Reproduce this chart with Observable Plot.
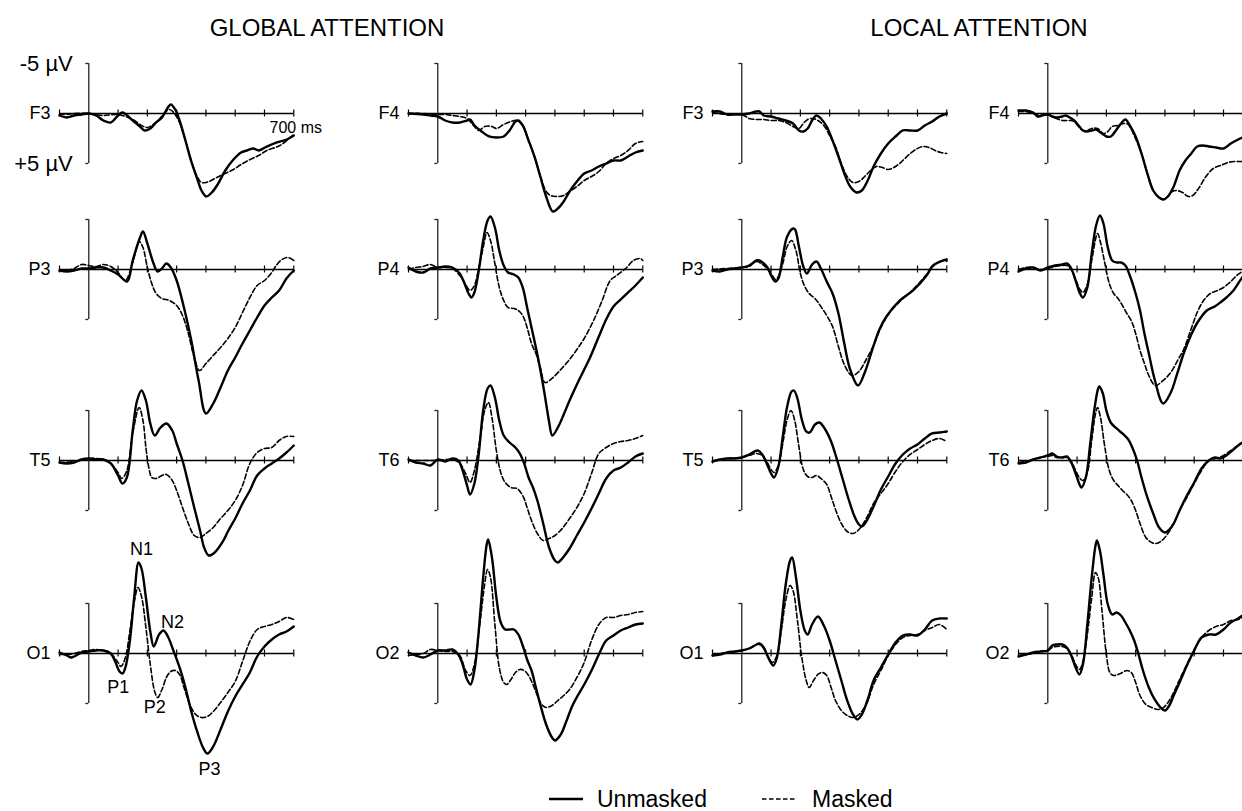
<!DOCTYPE html>
<html>
<head>
<meta charset="utf-8">
<script src="https://cdn.jsdelivr.net/npm/d3@7"></script>
<script src="https://cdn.jsdelivr.net/npm/@observablehq/plot@0.6"></script>
<style>
  html, body { margin: 0; padding: 0; background: #fff; overflow: hidden; }
  #fig { position: relative; width: 1242px; height: 811px; font-family: "Liberation Sans", Arial, Helvetica, sans-serif; color: #000; }
  .title { position: absolute; top: 16px; font-size: 24px; line-height: 24px; transform: translateX(-50%); white-space: nowrap; }
  #legend { position: absolute; left: 0; top: 780px; }
</style>
</head>
<body>
<div id="fig"></div>
<script>
// ---------------- DATA (latency ms, amplitude µV; positive = down) ----------------
const conditionTitles = ["GLOBAL ATTENTION", "LOCAL ATTENTION"];
const leftChannels = ["F3", "P3", "T5", "O1"];
const rightChannels = ["F4", "P4", "T6", "O2"];
const timeTicks = [-100, 0, 100, 200, 300, 400, 500, 600, 700];
const ampTicks = [-5, 5];
const legendLabels = ["Unmasked", "Masked"];

// Global attention, left hemisphere
const gF3u = [[-100,0.2],[-75,0.4],[-50,0.2],[-25,0.1],[0,0],[25,0.2],[50,0.7],[75,0.9],[100,0.2],[115,-0.1],[150,0.7],[175,1.3],[190,1.7],[210,1.5],[230,0.9],[250,0.4],[270,-0.6],[280,-0.9],[295,-0.4],[310,0.7],[330,2.7],[350,4.8],[370,6.5],[385,7.7],[401,8.3],[420,7.9],[440,7.1],[466,5.7],[494,4.6],[520,3.9],[540,3.7],[562,3.5],[580,3.7],[602,3.4],[642,2.9],[676,2.6],[700,2.2]];
const gF3m = [[-100,0.1],[-75,0.1],[-50,0],[0,0],[50,0.2],[100,0.1],[150,0.6],[180,1.2],[200,1.4],[220,1.1],[240,0.6],[260,-0.1],[275,-0.4],[290,-0.1],[310,0.9],[330,2.7],[350,4.7],[370,6.3],[385,6.9],[410,6.8],[437,6.4],[465,6.0],[494,5.6],[520,5.1],[551,4.6],[580,4.2],[608,3.7],[653,3.2],[688,2.4],[700,2.1]];
const gP3u = [[-100,0.1],[-75,0.2],[-50,0.1],[-25,-0.1],[0,-0.1],[25,-0.2],[50,-0.2],[75,0.1],[100,0.5],[131,1.2],[150,-0.9],[175,-3.2],[185,-3.8],[200,-2.6],[220,-0.7],[235,0.2],[250,-0.1],[265,-0.6],[280,-0.2],[300,1.1],[325,3.8],[350,7.1],[375,11.1],[400,14.4],[425,13.4],[450,11.8],[475,10.1],[500,8.8],[525,7.4],[550,6.1],[575,4.8],[600,3.6],[625,2.8],[650,2.1],[675,0.9],[700,0.1]];
const gP3m = [[-100,0.1],[-75,0.1],[-50,-0.1],[-25,-0.5],[0,-0.4],[25,-0.3],[50,-0.5],[75,-0.3],[100,0.3],[125,1.1],[150,-0.7],[172,-2.8],[185,-2.2],[200,-0.2],[215,1.4],[230,2.4],[250,2.9],[275,3.1],[300,3.6],[320,4.6],[340,6.4],[360,8.8],[378,10.1],[400,9.4],[425,8.6],[450,7.8],[475,6.9],[500,5.8],[525,4.3],[550,2.8],[575,1.6],[600,1.1],[625,0.3],[640,-0.4],[660,-1.0],[680,-1.2],[700,-0.9]];
const gT5u = [[-100,0.2],[-75,0.3],[-50,0.2],[-25,-0.1],[0,-0.2],[25,-0.1],[50,-0.1],[75,0.3],[100,1.5],[115,2.3],[130,1.7],[150,-3.0],[165,-6.0],[180,-7.0],[195,-6.0],[210,-3.7],[225,-2.5],[245,-3.3],[265,-3.7],[285,-3.0],[300,-1.7],[320,0],[340,2.3],[360,4.7],[380,7.0],[395,8.8],[410,9.5],[430,9.2],[460,8.0],[475,7.1],[500,5.8],[525,4.3],[550,3.0],[575,1.5],[600,0.8],[625,0.3],[650,-0.2],[675,-0.8],[700,-1.5]];
const gT5m = [[-100,0.2],[-50,0.1],[0,-0.2],[50,-0.1],[75,0.3],[100,1.2],[113,1.8],[130,1.0],[150,-2.7],[172,-5.3],[185,-4.0],[195,-1.3],[205,0.7],[215,1.7],[230,1.8],[250,1.5],[265,1.4],[285,2.0],[300,3.0],[320,4.7],[340,6.3],[360,7.5],[380,7.7],[400,7.3],[425,6.7],[450,5.8],[475,5.0],[500,4.0],[525,2.5],[550,0.3],[575,-0.8],[600,-1.2],[625,-1.3],[650,-2.0],[675,-2.4],[700,-2.4]];
const gO1u = [[-100,-0.1],[-75,0.2],[-60,0.4],[-50,0.3],[-25,-0.1],[0,-0.2],[25,-0.3],[50,-0.3],[75,0],[90,0.8],[105,1.8],[115,2.0],[125,1.4],[140,-1.2],[155,-5.6],[170,-9.1],[180,-8.5],[195,-5.6],[210,-2.2],[222,-0.7],[240,-1.9],[255,-2.3],[270,-1.7],[290,-0.2],[310,1.4],[330,3.4],[350,5.8],[370,7.8],[390,9.4],[405,10.0],[425,9.3],[450,7.6],[475,5.8],[500,4.3],[525,3.1],[550,1.9],[575,0.3],[600,-0.7],[625,-1.4],[650,-1.9],[675,-2.2],[700,-2.7]];
const gO1m = [[-100,0.1],[-75,0.1],[-50,0],[-25,-0.2],[0,-0.3],[25,-0.4],[50,-0.3],[75,0],[100,0.9],[110,1.3],[125,0.4],[140,-2.2],[155,-5.1],[168,-6.6],[180,-5.7],[195,-2.6],[210,1.1],[225,3.8],[235,4.4],[250,3.6],[265,2.4],[280,1.8],[295,1.7],[310,2.1],[325,3.4],[345,5.1],[365,6.1],[385,6.4],[405,6.3],[425,5.8],[450,4.9],[475,3.9],[500,2.8],[525,0.8],[550,-1.2],[575,-2.4],[600,-2.7],[625,-2.9],[650,-3.2],[675,-3.6],[700,-3.4]];

// Global attention, right hemisphere
const gF4u = [[-100,0],[-50,0.1],[-25,0.2],[0,0.3],[25,0.7],[50,0.9],[75,0.9],[100,0.7],[110,0.6],[125,1.2],[150,1.8],[175,2.3],[200,2.4],[225,2.3],[245,1.7],[265,0.8],[275,0.7],[290,1.2],[310,2.7],[330,4.3],[350,6.3],[370,8.3],[393,9.8],[410,9.5],[430,8.8],[450,7.8],[475,6.8],[500,6.0],[525,5.7],[550,5.3],[575,5.0],[600,4.7],[625,4.7],[650,4.3],[675,3.9],[700,3.7]];
const gF4m = [[-100,0],[-50,0],[0,0.1],[25,0.1],[50,0.2],[75,0.3],[100,0.5],[125,1.3],[140,1.7],[160,1.3],[185,1.3],[200,1.5],[225,1.1],[250,0.8],[270,0.7],[290,1.2],[310,2.7],[330,4.3],[350,6.2],[370,7.8],[385,8.2],[410,8.3],[430,8.2],[450,7.8],[475,7.3],[500,6.7],[525,6.3],[550,5.8],[575,5.0],[600,4.5],[625,4.2],[650,3.7],[675,3.0],[700,2.8]];
const gP4u = [[-100,-0.2],[-75,0.2],[-50,0.3],[-25,-0.1],[0,-0.2],[25,-0.3],[50,-0.2],[75,0.4],[90,1.3],[105,2.4],[115,2.8],[125,2.3],[140,0.1],[155,-2.9],[170,-4.9],[180,-5.3],[195,-4.2],[210,-1.9],[225,-0.4],[240,0.3],[260,0.5],[275,0.8],[290,1.8],[305,3.8],[320,5.8],[335,7.8],[350,10.0],[365,12.5],[380,15.2],[391,16.6],[410,15.8],[430,14.5],[450,13.1],[475,11.5],[500,10.0],[520,8.8],[550,6.7],[575,5.0],[600,3.7],[625,3.0],[650,2.3],[675,1.6],[700,0.8]];
const gP4m = [[-100,0],[-75,-0.2],[-50,-0.3],[-25,-0.5],[0,-0.2],[25,-0.2],[50,-0.1],[75,0.6],[95,1.5],[110,2.1],[125,1.6],[140,-0.2],[155,-2.2],[168,-3.7],[180,-2.9],[195,-0.6],[210,1.8],[225,3.1],[240,3.8],[260,3.9],[275,4.1],[290,4.6],[305,5.8],[320,7.4],[335,8.4],[350,9.8],[366,11.3],[390,10.9],[420,10.0],[450,9.0],[475,8.0],[500,6.9],[532,5.1],[560,3.2],[589,1.1],[611,0.6],[645,-0.2],[668,-0.9],[691,-1.1],[700,-0.9]];
const gT6u = [[-100,-0.1],[-75,0.2],[-50,0.3],[-25,0.5],[0,-0.1],[25,0.1],[50,-0.2],[70,0],[85,1.0],[100,2.5],[110,3.4],[125,2.3],[140,-0.7],[155,-5.0],[170,-7.2],[180,-7.5],[195,-6.3],[210,-4.0],[225,-2.5],[245,-1.8],[265,-1.3],[280,-0.7],[295,0.3],[310,1.7],[325,2.7],[340,4.0],[360,6.3],[380,8.7],[400,10.0],[410,10.2],[425,9.8],[450,8.8],[475,7.5],[500,6.2],[525,4.8],[550,3.3],[575,1.8],[600,1.0],[625,0.7],[650,0.2],[675,-0.4],[700,-0.7]];
const gT6m = [[-100,0],[-50,0],[0,0],[50,-0.1],[75,0.3],[95,1.3],[110,2.2],[125,1.0],[145,-2.3],[160,-5.0],[173,-5.8],[185,-4.3],[200,-1.0],[215,1.2],[230,2.2],[250,2.7],[270,2.8],[290,3.5],[305,4.7],[320,6.0],[340,7.3],[360,8.0],[380,7.8],[400,7.5],[425,6.8],[450,5.8],[475,4.7],[500,3.3],[525,1.3],[550,-0.7],[575,-1.3],[600,-1.7],[625,-1.9],[650,-2.0],[675,-2.2],[700,-2.5]];
const gO2u = [[-100,-0.1],[-75,0.2],[-50,0.4],[-25,0.1],[0,-0.3],[25,-0.3],[50,-0.4],[70,0.1],[85,1.1],[100,2.6],[112,3.1],[125,1.7],[140,-2.3],[155,-7.6],[167,-10.9],[172,-11.4],[185,-9.6],[200,-5.6],[215,-3.1],[230,-2.4],[245,-2.4],[260,-2.4],[275,-1.9],[290,-0.8],[305,0.6],[320,1.7],[335,3.4],[350,5.1],[370,7.1],[390,8.4],[400,8.7],[420,8.1],[440,6.7],[460,5.2],[480,4.1],[500,3.1],[525,1.7],[550,0.1],[575,-1.3],[600,-1.8],[625,-2.3],[650,-2.6],[675,-2.9],[700,-3.0]];
const gO2m = [[-100,0.2],[-75,0.1],[-50,0],[-25,-0.4],[0,-0.3],[25,-0.2],[50,-0.2],[75,0.2],[95,1.7],[110,2.2],[125,1.1],[145,-3.3],[160,-6.9],[170,-8.4],[180,-7.6],[195,-2.9],[210,1.4],[225,2.9],[235,3.1],[250,2.6],[265,1.9],[280,1.6],[295,1.7],[310,2.2],[325,3.1],[340,4.2],[355,5.1],[370,5.4],[390,5.2],[410,4.7],[430,4.2],[450,3.6],[475,2.4],[500,0.9],[525,-1.3],[550,-2.9],[575,-3.6],[600,-3.6],[625,-3.8],[650,-3.9],[675,-4.1],[700,-4.2]];

// Local attention, left hemisphere
const lF3u = [[-100,-0.2],[-75,-0.2],[-50,0.1],[-25,0.1],[0,0.1],[25,0],[50,-0.2],[60,-0.2],[75,0.2],[100,0.3],[125,0.5],[150,0.7],[175,1.0],[195,1.7],[210,1.8],[225,1.5],[240,0.7],[255,0.2],[270,0.5],[290,1.3],[310,2.7],[330,4.3],[350,6.0],[370,7.3],[392,7.9],[410,7.7],[430,6.7],[450,5.3],[475,4.0],[500,3.0],[525,2.3],[550,1.7],[575,1.7],[600,1.7],[625,1.2],[650,0.8],[675,0.3],[700,0]];
const lF3m = [[-100,-0.1],[-50,0.1],[0,0.1],[25,0.5],[50,0.6],[75,0.6],[100,0.7],[125,0.7],[150,0.9],[175,1.3],[195,1.5],[210,1.0],[225,0.6],[240,0.5],[260,0.7],[280,1.2],[300,2.2],[320,3.3],[340,5.0],[360,6.3],[380,6.9],[400,6.8],[420,6.3],[440,5.7],[460,5.3],[480,5.4],[500,5.6],[525,5.3],[550,4.7],[575,4.0],[600,3.5],[620,3.3],[640,3.4],[660,3.7],[680,3.9],[700,4.0]];
const lP3u = [[-100,0.1],[-75,0.2],[-50,0],[-25,-0.1],[0,-0.2],[25,-0.4],[50,-0.9],[60,-0.9],[75,-0.6],[90,-0.1],[100,0.6],[115,1.2],[125,0.9],[140,-1.3],[155,-3.3],[175,-4.1],[182,-4.0],[195,-2.3],[210,-0.3],[222,0.4],[240,-0.5],[255,-0.8],[270,-0.1],[290,1.2],[310,2.4],[330,4.4],[350,7.4],[370,10.0],[397,11.6],[420,10.3],[449,7.7],[470,6.0],[494,4.7],[540,3.1],[585,2.1],[631,0.6],[653,-0.4],[688,-0.9],[700,-1.0]];
const lP3m = [[-100,0],[-50,-0.1],[0,-0.2],[25,-0.3],[50,-0.8],[75,-0.4],[100,0.4],[115,1.0],[125,0.7],[140,-0.6],[155,-2.3],[170,-2.9],[185,-1.9],[200,0.4],[215,1.7],[230,2.4],[250,2.9],[270,3.7],[290,4.6],[310,5.7],[330,7.7],[350,9.5],[376,10.6],[400,10.2],[425,9.0],[450,7.6],[475,5.8],[500,4.5],[540,3.2],[585,2.0],[631,0.5],[653,-0.3],[670,-0.7],[688,-0.9],[700,-0.8]];
const lT5u = [[-100,0.1],[-75,-0.1],[-50,-0.2],[-25,-0.2],[0,-0.3],[25,-0.6],[55,-1.0],[70,-0.6],[85,0.3],[100,1.3],[110,1.7],[125,0.6],[140,-2.4],[155,-5.4],[170,-6.9],[178,-7.0],[190,-6.2],[205,-4.1],[220,-2.9],[232,-2.8],[250,-3.6],[265,-3.8],[285,-3.1],[305,-1.9],[325,-0.1],[345,1.9],[365,3.9],[385,5.6],[400,6.4],[410,6.6],[425,6.1],[450,4.6],[475,2.9],[500,1.6],[525,0.3],[550,-0.6],[575,-1.2],[600,-1.6],[625,-2.2],[650,-2.7],[675,-2.8],[700,-2.9]];
const lT5m = [[-100,0.1],[-50,-0.2],[0,-0.3],[25,-0.5],[50,-0.7],[70,-0.5],[85,0.1],[100,0.9],[110,1.2],[125,0.5],[140,-1.7],[155,-4.1],[168,-5.0],[180,-4.1],[195,-1.4],[210,0.9],[225,1.6],[240,1.7],[255,1.5],[270,1.8],[290,2.4],[305,3.6],[320,4.9],[340,6.3],[360,7.1],[380,7.3],[400,6.9],[425,5.8],[450,4.3],[475,3.3],[500,2.3],[525,1.1],[550,0.1],[575,-0.6],[600,-1.1],[625,-1.6],[650,-2.0],[675,-2.2],[700,-1.9]];
const lO1u = [[-100,0.2],[-75,0.1],[-50,-0.1],[-25,-0.2],[0,-0.3],[25,-0.5],[50,-0.9],[60,-1.0],[75,-0.6],[90,0.4],[108,1.2],[120,0.4],[135,-2.9],[150,-6.9],[165,-9.3],[172,-9.6],[185,-7.6],[200,-4.3],[215,-2.3],[225,-1.9],[240,-2.9],[260,-3.7],[280,-2.8],[300,-1.3],[320,0.7],[340,2.7],[360,4.7],[380,6.1],[395,6.6],[410,6.1],[430,4.6],[450,2.7],[475,1.4],[500,0.1],[525,-1.1],[550,-1.8],[575,-1.9],[600,-1.8],[625,-2.4],[650,-3.3],[675,-3.5],[700,-3.5]];
const lO1m = [[-100,0.2],[-50,-0.1],[0,-0.3],[25,-0.5],[50,-0.9],[60,-0.9],[75,-0.5],[90,0.3],[105,0.9],[120,0.2],[135,-2.3],[150,-5.3],[165,-6.8],[175,-6.3],[190,-3.3],[205,0.4],[220,2.7],[230,3.4],[245,2.7],[260,2.1],[275,1.9],[290,2.2],[305,3.4],[320,4.7],[340,5.7],[360,6.2],[380,6.4],[400,6.1],[425,5.1],[450,3.1],[475,1.7],[500,0.2],[525,-0.9],[550,-1.6],[575,-1.8],[600,-1.9],[625,-2.3],[650,-2.6],[675,-2.9],[700,-2.4]];

// Local attention, right hemisphere
const lF4u = [[-100,-0.3],[-75,-0.3],[-50,-0.1],[-35,0.3],[-20,0.2],[0,0.1],[15,0.3],[30,0.4],[50,0.3],[60,0.2],[75,0.4],[90,0.7],[105,1.2],[120,1.7],[135,1.8],[150,1.7],[165,1.6],[180,1.9],[200,2.3],[215,2.3],[230,1.8],[250,1.0],[265,0.6],[280,1.2],[300,2.3],[320,4.0],[340,6.0],[360,7.7],[380,8.4],[395,8.6],[410,8.3],[430,7.3],[450,5.7],[470,4.7],[490,4.0],[510,3.3],[530,3.2],[550,3.3],[575,3.4],[600,3.5],[625,3.0],[650,2.6],[665,2.4],[700,2.0]];
const lF4m = [[-100,-0.2],[-75,-0.2],[-50,0],[-25,0.2],[0,0.1],[15,0.3],[30,0.5],[50,0.7],[75,0.7],[90,0.8],[105,1.3],[120,1.7],[135,1.7],[150,1.5],[170,1.5],[190,2.0],[205,1.8],[220,1.3],[240,1.2],[260,1.0],[275,1.1],[295,2.2],[320,4.0],[340,6.0],[360,7.7],[380,8.4],[395,8.6],[410,8.3],[425,7.8],[440,7.7],[460,7.9],[480,8.3],[495,8.2],[515,7.5],[540,6.3],[565,5.5],[590,5.2],[615,4.9],[640,4.8],[665,4.8],[700,4.7]];
const lP4u = [[-100,0.2],[-75,-0.1],[-50,-0.2],[-25,0.1],[0,-0.2],[25,-0.4],[50,-0.5],[65,-0.6],[80,-0.1],[95,1.1],[110,2.4],[120,2.8],[135,1.8],[150,-1.6],[165,-4.4],[178,-5.4],[190,-4.6],[205,-2.2],[220,-0.9],[235,-0.7],[250,-0.7],[265,-0.4],[280,0.6],[300,2.4],[315,4.1],[330,6.4],[345,8.4],[365,11.0],[394,13.4],[420,12.3],[440,10.6],[464,8.4],[490,6.5],[509,5.4],[543,4.1],[570,3.7],[589,3.3],[610,2.8],[634,2.1],[664,0.8],[700,-0.4]];
const lP4m = [[-100,0],[-75,-0.2],[-50,-0.2],[-25,0],[0,-0.1],[25,-0.3],[50,-0.4],[65,-0.4],[80,0],[95,1.0],[110,2.0],[120,2.3],[135,1.5],[150,-0.9],[170,-3.6],[180,-2.7],[195,-0.6],[210,1.4],[225,2.4],[240,2.9],[255,3.6],[270,4.4],[285,5.1],[300,6.4],[315,8.1],[330,9.4],[345,10.6],[367,11.6],[390,11.2],[420,10.3],[445,9.0],[464,8.0],[490,5.9],[510,4.3],[532,3.1],[555,2.4],[580,2.1],[600,1.8],[625,1.2],[645,0.6],[664,0.2],[700,-0.5]];
const lT6u = [[-100,0.3],[-75,0.2],[-50,-0.1],[-25,-0.3],[0,-0.5],[15,-0.7],[30,-0.4],[50,-0.3],[65,-0.4],[80,0.2],[95,1.3],[110,2.5],[115,2.7],[130,1.7],[145,-1.7],[160,-5.3],[172,-7.2],[176,-7.4],[188,-6.7],[200,-5.0],[215,-3.8],[235,-3.2],[255,-2.7],[275,-2.1],[290,-1.2],[305,0],[320,1.7],[340,3.7],[360,5.3],[380,6.7],[400,7.2],[415,6.9],[430,6.3],[450,5.0],[475,3.5],[500,2.2],[525,0.8],[550,0],[570,-0.3],[590,-0.2],[610,-0.5],[630,-1.0],[650,-1.5],[665,-1.8],[700,-2.2]];
const lT6m = [[-100,0.2],[-75,0.1],[-50,-0.1],[-25,-0.3],[0,-0.4],[15,-0.5],[30,-0.3],[50,-0.3],[65,-0.3],[80,0.1],[95,1.0],[110,1.8],[120,2.0],[135,1.2],[150,-2.0],[163,-4.7],[170,-5.3],[180,-4.3],[195,-1.3],[210,1.0],[225,2.0],[240,2.5],[255,3.0],[270,3.4],[285,4.0],[300,5.0],[315,6.3],[335,7.7],[355,8.2],[370,8.3],[390,8.0],[410,7.3],[430,6.3],[450,5.0],[475,3.7],[500,2.3],[525,1.0],[550,0],[575,-0.2],[600,-0.5],[625,-1.0],[650,-1.5],[665,-1.8],[700,-2.2]];
const lO2u = [[-100,0.3],[-75,0.1],[-50,-0.1],[-25,-0.2],[0,-0.3],[15,-0.8],[30,-0.9],[50,-0.9],[65,-0.6],[80,0.2],[95,1.4],[108,2.1],[120,1.1],[135,-2.9],[150,-7.6],[163,-10.8],[168,-11.3],[178,-10.3],[190,-7.9],[205,-4.9],[220,-3.9],[235,-4.1],[250,-3.8],[265,-3.1],[280,-2.3],[295,-1.3],[310,0.1],[325,1.7],[345,3.4],[365,4.6],[385,5.4],[400,5.7],[415,5.2],[430,4.2],[450,2.9],[475,1.2],[500,-0.3],[525,-1.6],[550,-1.9],[575,-1.9],[600,-2.4],[625,-3.1],[650,-3.5],[665,-3.8],[700,-4.0]];
const lO2m = [[-100,0.2],[-75,0.1],[-50,0],[-25,-0.2],[0,-0.3],[15,-0.6],[30,-0.7],[50,-0.7],[65,-0.5],[80,0.1],[95,1.1],[108,1.6],[120,0.8],[135,-1.9],[150,-5.6],[163,-8.1],[172,-7.6],[185,-4.3],[200,0.1],[212,1.9],[225,2.2],[240,2.1],[255,1.9],[270,1.7],[285,1.9],[300,2.9],[315,4.2],[335,5.1],[355,5.4],[375,5.6],[395,5.4],[415,4.7],[430,3.9],[450,2.6],[475,1.1],[500,-0.4],[525,-1.6],[550,-2.3],[575,-2.7],[600,-2.9],[625,-3.3],[650,-3.4],[665,-3.6],[700,-3.8]];

// Component labels (O1, global attention): name, latency, amplitude of label
const componentLabels = [
  {name: "N1", t: 180, v: -10.4},
  {name: "N2", t: 286, v: -3.1},
  {name: "P1", t: 101, v: 3.4},
  {name: "P2", t: 225, v: 5.4},
  {name: "P3", t: 412, v: 11.6}
];

// --------------- assemble panels from the arrays ---------------
const columns = [
  {channels: leftChannels,  series: [[gF3u, gF3m], [gP3u, gP3m], [gT5u, gT5m], [gO1u, gO1m]]},
  {channels: rightChannels, series: [[gF4u, gF4m], [gP4u, gP4m], [gT6u, gT6m], [gO2u, gO2m]]},
  {channels: leftChannels,  series: [[lF3u, lF3m], [lP3u, lP3m], [lT5u, lT5m], [lO1u, lO1m]]},
  {channels: rightChannels, series: [[lF4u, lF4m], [lP4u, lP4m], [lT6u, lT6m], [lO2u, lO2m]]}
];

// --------------- layout ---------------
const K_MS = 205 / 700;     // px per ms
const K_UV = 10;            // px per µV
const colAxisX = [88.3, 437.3, 741.7, 1047.3];
const rowBaseY = [112.8, 269.1, 460.3, 652.5];
const titleX = [327, 979];
const ML = 60, MR = 40, BASE = 140, PH = 320;
const tMin = d3.min(timeTicks), tMax = d3.max(timeTicks);
const PW = ML + (tMax - tMin) * K_MS + MR;
const FONT = "Liberation Sans, Arial, Helvetica, sans-serif";

const fig = document.getElementById("fig");

conditionTitles.forEach((t, i) => {
  const d = document.createElement("div");
  d.className = "title";
  d.style.left = titleX[i] + "px";
  d.textContent = t;
  fig.appendChild(d);
});

const toRows = arr => arr.map(([t, v]) => ({t, v}));

columns.forEach((col, ci) => {
  col.channels.forEach((ch, ri) => {
    const [u, m] = col.series[ri];
    const marks = [
      Plot.ruleY([0], {x1: tMin, x2: tMax, stroke: "#000", strokeWidth: 1.3}),
      Plot.ruleX(timeTicks.filter(t => t !== 0), {x: d => d, y1: -0.35, y2: 0.35, stroke: "#000", strokeWidth: 1.2}),
      Plot.ruleX([0], {y1: d3.min(ampTicks), y2: d3.max(ampTicks), stroke: "#222", strokeWidth: 1.3}),
      Plot.ruleY(ampTicks, {y: d => d, x1: -10, x2: 0, stroke: "#222", strokeWidth: 1.3}),
      Plot.line(toRows(m), {x: "t", y: "v", curve: "catmull-rom", stroke: "#000", strokeWidth: 1.6, strokeDasharray: "5,2.5"}),
      Plot.line(toRows(u), {x: "t", y: "v", curve: "catmull-rom", stroke: "#000", strokeWidth: 2.4}),
      Plot.text([ch], {x: tMin, y: 0, text: d => d, dx: -9, textAnchor: "end", fontSize: 18, fill: "#000", fontFamily: FONT})
    ];
    if (ci === 0 && ri === 0) {
      marks.push(Plot.text(ampTicks, {x: 0, y: d => d, text: d => (d < 0 ? "-" : "+") + Math.abs(d) + " µV", dx: -16, textAnchor: "end", fontSize: 22, fill: "#000", fontFamily: FONT}));
      marks.push(Plot.text([tMax], {x: d => d, y: 0, text: d => d + " ms", dx: 2, dy: 14, textAnchor: "middle", fontSize: 16, fill: "#000", fontFamily: FONT}));
    }
    if (ci === 0 && ri === 3) {
      marks.push(Plot.text(componentLabels, {x: "t", y: "v", text: "name", textAnchor: "middle", fontSize: 18, fill: "#000", fontFamily: FONT}));
    }
    const svg = Plot.plot({
      width: PW,
      height: PH,
      marginLeft: ML, marginRight: MR, marginTop: 0, marginBottom: 0,
      x: {domain: [tMin, tMax], range: [ML, ML + (tMax - tMin) * K_MS], axis: null},
      y: {domain: [0, 1], range: [BASE, BASE + K_UV], axis: null},
      style: {overflow: "visible", background: "transparent", fontFamily: FONT},
      marks
    });
    svg.style.position = "absolute";
    svg.style.left = (colAxisX[ci] - ML + tMin * K_MS) + "px";
    svg.style.top = (rowBaseY[ri] - BASE) + "px";
    svg.style.maxWidth = "none";
    fig.appendChild(svg);
  });
});

// --------------- legend ---------------
const ns = "http://www.w3.org/2000/svg";
const leg = document.createElementNS(ns, "svg");
leg.setAttribute("id", "legend");
leg.setAttribute("width", 1242);
leg.setAttribute("height", 31);
const legendItems = [
  {label: legendLabels[0], x1: 549, x2: 583, tx: 597, width: 2.4, dash: null},
  {label: legendLabels[1], x1: 762, x2: 797, tx: 812, width: 1.7, dash: "4.5,2.5"}
];
legendItems.forEach(it => {
  const l = document.createElementNS(ns, "line");
  l.setAttribute("x1", it.x1); l.setAttribute("x2", it.x2);
  l.setAttribute("y1", 19); l.setAttribute("y2", 19);
  l.setAttribute("stroke", "#000"); l.setAttribute("stroke-width", it.width);
  if (it.dash) l.setAttribute("stroke-dasharray", it.dash);
  leg.appendChild(l);
  const t = document.createElementNS(ns, "text");
  t.setAttribute("x", it.tx); t.setAttribute("y", 26.7);
  t.setAttribute("font-size", 23);
  t.setAttribute("font-family", FONT);
  t.setAttribute("fill", "#000");
  t.textContent = it.label;
  leg.appendChild(t);
});
fig.appendChild(leg);
</script>
</body>
</html>
